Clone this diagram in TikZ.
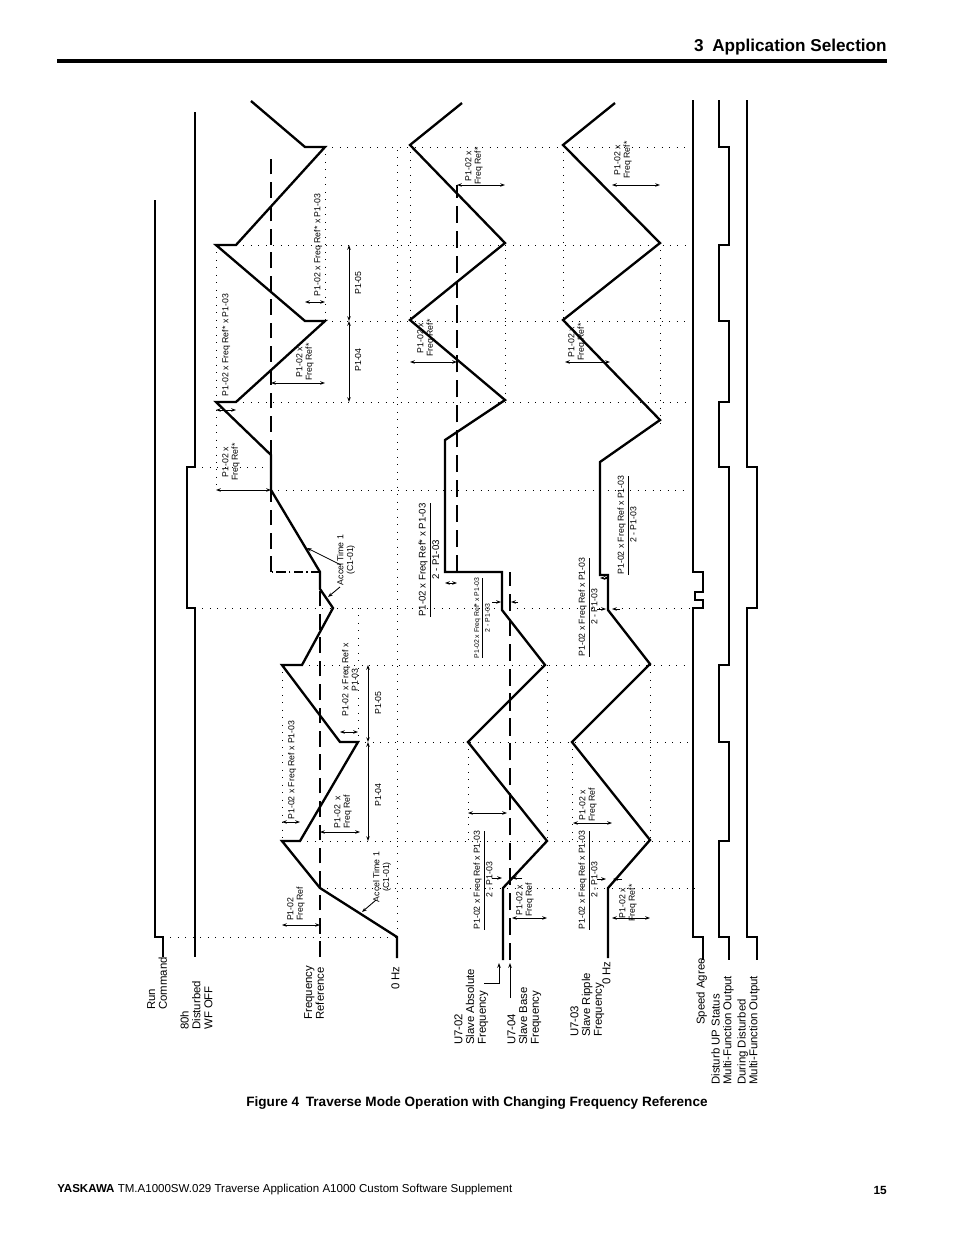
\documentclass[tikz,border=0pt]{standalone}
\usepackage{fontspec}
\setmainfont{Liberation Sans}
\usetikzlibrary{arrows.meta}

\newcommand{\frc}[2]{\underline{#1}\\#2}

\begin{document}
\begin{tikzpicture}[
    x=0.6415pt, y=-0.6415pt,
    wave/.style={line width=1.5pt, line join=miter},
    sig/.style={line width=1.7pt},
    refline/.style={line width=1.1pt, dash pattern=on 10pt off 5pt},
    basel/.style={line width=1.6pt, dash pattern=on 11pt off 5pt},
    dots/.style={line width=0.5pt, dash pattern=on 0.5pt off 4.3pt},
    dim/.style={{Stealth[length=3pt,width=2.2pt]}-{Stealth[length=3pt,width=2.2pt]}, line width=0.55pt},
    ptr/.style={-{Stealth[length=3pt,width=2.2pt]}, line width=0.55pt},
    lbl/.style={rotate=90, inner sep=0pt, anchor=north west, align=left, font=\fontsize{7.3}{7.6}\selectfont},
    note/.style={rotate=90, inner sep=0pt, align=center, font=\fontsize{5.6}{6.2}\selectfont},
    tinynote/.style={note, font=\fontsize{4.4}{5}\selectfont}
]
\useasboundingbox (0,0) rectangle (954,1235);

% page header and footer
\node[anchor=east, inner sep=0pt, font=\fontsize{11}{13}\selectfont\bfseries] (head) at (887,47) {3\enspace Application Selection};
\draw[line width=2pt] (57,61) -- (887,61);
\node[inner sep=0pt, font=\fontsize{8.7}{10}\selectfont\bfseries] (caption) at (477,1103) {Figure 4\enspace Traverse Mode Operation with Changing Frequency Reference};
\node[anchor=west, inner sep=0pt, font=\fontsize{7.4}{9}\selectfont] (foot) at (57,1190) {\textbf{YASKAWA} TM.A1000SW.029 Traverse Application A1000 Custom Software Supplement};
\node[anchor=east, inner sep=0pt, font=\fontsize{7.6}{9}\selectfont\bfseries] (page) at (887,1190) {15};

% time marks
\foreach \y/\a/\b in {147/325/690, 245/236/690, 321/325/690, 402/236/690, 467/195/271,
    490/271/690, 608/195/690, 665/302/690, 742/358/690, 841/300/690, 888/320/700, 937/163/400}
  \draw[dots] (\a,\y) -- (\b,\y);
\foreach \x/\a/\b in {397/150/937, 282/665/841, 358/608/742, 216/245/490, 325/147/321,
    410/145/320, 505/243/402, 468/742/841, 547/665/841, 563/145/320, 572/742/841, 650/665/840, 660/243/425}
  \draw[dots] (\x,\a) -- (\x,\b);

% left signals
\draw[sig] (155,200) -- (155,937) -- (163,937) -- (163,957);
\draw[sig] (195,112) -- (195,467) -- (187,467) -- (187,608) -- (195,608) -- (195,957);
\node[lbl] (run) at (147,1010) {Run\\Command};
\node[lbl] (wfoff) at (180,1030) {80h\\Disturbed\\WF OFF};

% frequency reference
\draw[refline] (320,957) -- (320,572);
\draw[line width=0.8pt, dash pattern=on 6pt off 2pt on 1pt off 2pt] (320,572) -- (271,572);
\draw[refline] (271,572) -- (271,155);
\draw[wave] (397,958) -- (397,937) -- (320,888) -- (282,841) -- (300,841) -- (358,742) -- (340,742)
  -- (282,665) -- (302,665) -- (333,608) -- (320,589) -- (320,572) -- (271,490) -- (271,455)
  -- (216,402) -- (236,402) -- (325,321) -- (305,321) -- (216,245) -- (236,245) -- (325,147)
  -- (305,147) -- (251,101);
\node[lbl] (fref) at (304,1020) {Frequency\\Reference};
\node[lbl] (zero1) at (391,990) {0 Hz};

\node[note, align=left] (n1) at (296,904) {P1-02\\Freq Ref};
\draw[dim] (282,925) -- (320,925);
\node[note] (n2) at (382,877) {Accel Time 1\\(C1-01)};
\draw[ptr] (376,900) -- (362,912);
\node[note] (n3) at (343,812) {P1-02 \ x\\Freq Ref};
\draw[dim] (320,832) -- (360,832);
\node[note] (n4) at (292,770) {P1-02 x Freq Ref x P1-03};
\draw[dim] (282,822) -- (300,822);
\node[note] (n5) at (350,680) {P1-02 x Freq Ref x\\P1-03};
\draw[dim] (340,732) -- (358,732);
\draw[dim] (368,742) -- (368,841);
\node[note] (n6) at (378,795) {P1-04};
\draw[dim] (368,665) -- (368,742);
\node[note] (n7) at (378,703) {P1-05};
\node[note] (n8) at (346,560) {Accel Time 1\\(C1-01)};
\draw[ptr] (341,565) -- (307,548);
\draw[ptr] (340,587) -- (328,597);

\node[note] (n9) at (231,462) {P1-02 x\\Freq Ref*};
\draw[dim] (216,490) -- (271,490);
\node[note] (n10) at (226,345) {P1-02 x Freq Ref* x P1-03};
\draw[dim] (216,410) -- (236,410);
\node[note] (n11) at (305,362) {P1-02 x\\Freq Ref*};
\draw[dim] (271,383) -- (325,383);
\node[note] (n12) at (318,245) {P1-02 x Freq Ref* x P1-03};
\draw[dim] (305,302) -- (325,302);
\draw[dim] (349,321) -- (349,402);
\node[note] (n13) at (358,360) {P1-04};
\draw[dim] (349,245) -- (349,321);
\node[note] (n14) at (358,283) {P1-05};

% slave absolute / base frequency
\draw[basel] (510,960) -- (510,572);
\draw[basel] (457,572) -- (457,185);
\draw[wave] (503,960) -- (503,888) -- (547,841) -- (468,742) -- (545,665) -- (502,610) -- (502,572)
  -- (445,572) -- (445,440) -- (505,400) -- (410,320) -- (505,243) -- (410,145) -- (462,103);
\node[lbl] (u702) at (454,1045) {U7-02\\Slave Absolute\\Frequency};
\node[lbl] (u704) at (507,1045) {U7-04\\Slave Base\\Frequency};
\draw[ptr] (484,983) -- (499,983) -- (499,963);
\draw[ptr] (510,998) -- (510,963);

\node[note] (n15) at (483,880) {\frc{P1-02 x Freq Ref x P1-03}{2 - P1-03}};
\draw[ptr] (492,878) -- (502,878);
\draw[ptr] (522,878) -- (512,878);
\node[note] (n16) at (525,900) {P1-02 x\\Freq Ref};
\draw[dim] (512,918) -- (547,918);
\draw[dim] (468,813) -- (507,813);
\node[note, font=\fontsize{6.2}{6.8}\selectfont] (n18) at (429,560) {\frc{P1-02 x Freq Ref* x P1-03}{2 - P1-03}};
\draw[dim] (445,583) -- (457,583);
\node[tinynote] (n19) at (482,618) {\frc{P1-02 x Freq Ref* x P1-03}{2 - P1-03}};
\draw[ptr] (492,602) -- (501,602);
\draw[ptr] (518,602) -- (511,602);
\node[note] (n20) at (426,338) {P1-02 x\\Freq Ref*};
\draw[dim] (410,362) -- (457,362);
\node[note] (n21) at (474,166) {P1-02 x\\Freq Ref*};
\draw[dim] (457,185) -- (505,185);

% slave ripple frequency
\draw[wave] (608,958) -- (608,888) -- (650,840) -- (572,742) -- (650,664) -- (608,610) -- (608,575)
  -- (600,575) -- (600,462) -- (660,420) -- (563,320) -- (660,243) -- (563,145) -- (615,103);
\node[lbl] (u703) at (570,1037) {U7-03\\Slave Ripple\\Frequency};
\node[lbl] (zero2) at (602,985) {0 Hz};

\node[note] (n22) at (588,880) {\frc{P1-02 x Freq Ref x P1-03}{2 - P1-03}};
\draw[ptr] (597,879) -- (606,879);
\draw[ptr] (622,879) -- (613,879);
\node[note] (n23) at (628,903) {P1-02 x\\Freq Ref*};
\draw[dim] (612,918) -- (650,918);
\node[note] (n24) at (588,805) {P1-02 x\\Freq Ref};
\draw[dim] (573,823) -- (612,823);
\node[note] (n25) at (588,607) {\frc{P1-02 x Freq Ref x P1-03}{2 - P1-03}};
\draw[ptr] (597,609) -- (606,609);
\draw[ptr] (620,609) -- (612,609);
\node[note] (n26) at (627,525) {\frc{P1-02 x Freq Ref x P1-03}{2 - P1-03}};
\draw[dim] (600,578) -- (609,578);
\node[note] (n27) at (577,342) {P1-02 x\\Freq Ref*};
\draw[dim] (565,362) -- (610,362);
\node[note] (n28) at (623,160) {P1-02 x\\Freq Ref*};
\draw[dim] (612,185) -- (660,185);

% output signals
\draw[sig] (693,100) -- (693,572) -- (703,572) -- (703,592) -- (695,592) -- (695,600) -- (703,600)
  -- (703,608) -- (693,608) -- (693,937) -- (703,937) -- (703,960);
\draw[sig] (719,100) -- (719,147) -- (729,147) -- (729,245) -- (719,245) -- (719,321) -- (729,321)
  -- (729,402) -- (719,402) -- (719,467) -- (729,467) -- (729,665) -- (719,665) -- (719,742)
  -- (729,742) -- (729,841) -- (719,841) -- (719,937) -- (729,937) -- (729,960);
\draw[sig] (747,100) -- (747,467) -- (757,467) -- (757,608) -- (747,608) -- (747,937) -- (757,937) -- (757,960);
\node[lbl] (agree) at (696,1025) {Speed Agree};
\node[lbl] (upst) at (711,1085) {Disturb UP Status\\Multi-Function Output};
\node[lbl] (during) at (737,1085) {During Disturbed\\Multi-Function Output};

\end{tikzpicture}
\end{document}
